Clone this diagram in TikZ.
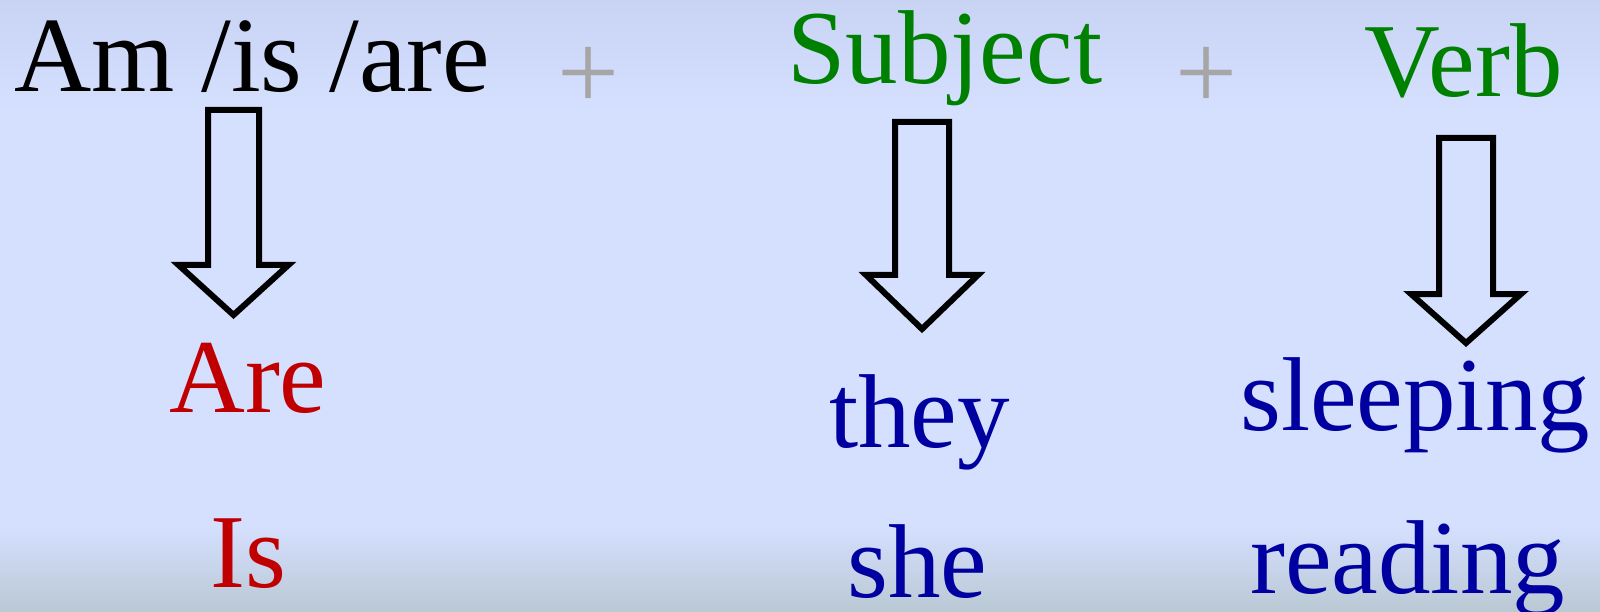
\documentclass[tikz,border=0pt]{standalone}
\usepackage{fontspec}
\setmainfont{Liberation Serif}
\definecolor{bgtop}{HTML}{C9D3F4}
\definecolor{bgmid}{HTML}{D5E0FF}
\definecolor{bgbot}{HTML}{BAC8D4}
\definecolor{wgreen}{HTML}{008000}
\definecolor{wred}{HTML}{C00000}
\definecolor{wblue}{HTML}{0000A0}
\definecolor{wgray}{HTML}{A6A6A6}
\tikzset{
  word/.style={anchor=base west, inner sep=0pt, font=\fontsize{105}{110}\selectfont},
  plussign/.style={anchor=center, inner sep=0pt, text=wgray, font=\fontsize{110}{115}\selectfont},
  blkarrow/.style={draw=black, line width=6pt, line join=miter, fill=none}
}
% #1 center x, #2 half shaft width, #3 top y, #4 head y, #5 half head width, #6 tip y
\newcommand\myblockarrow[6]{%
  \draw[blkarrow] (#1-#2,#3) -- (#1+#2,#3) -- (#1+#2,#4) -- (#1+#5,#4) -- (#1,#6)
    -- (#1-#5,#4) -- (#1-#2,#4) -- cycle;}
\begin{document}
\begin{tikzpicture}[x=1pt,y=-1pt]
\useasboundingbox (0,0) rectangle (1600,612);
\shade[top color=bgtop, bottom color=bgmid] (0,0) rectangle (1600,110);
\fill[bgmid] (0,109) rectangle (1600,526);
\shade[top color=bgmid, bottom color=bgbot] (0,525) rectangle (1600,612);

\node[word, font=\fontsize{107}{112}\selectfont] (amisare) at (14,92) {Am /is /are};
\node[plussign] (plus1) at (589,78) {+};
\node[word, text=wgreen] (subject) at (787,84) {Subject};
\node[plussign] (plus2) at (1207,78) {+};
\node[word, text=wgreen] (verb) at (1364,97) {Verb};

\myblockarrow{233.5}{25.5}{110}{265}{55}{315}
\myblockarrow{922}{27}{122}{275}{56}{329}
\myblockarrow{1466}{27}{138}{294}{55}{343}

\node[word, text=wred] (are) at (169,412) {Are};
\node[word, text=wred] (is) at (210,587) {Is};
\node[word, text=wblue] (they) at (829,447) {they};
\node[word, text=wblue] (she) at (847,597) {she};
\node[word, text=wblue] (sleeping) at (1240,430) {sleeping};
\node[word, text=wblue] (reading) at (1250,593) {reading};
\end{tikzpicture}
\end{document}
